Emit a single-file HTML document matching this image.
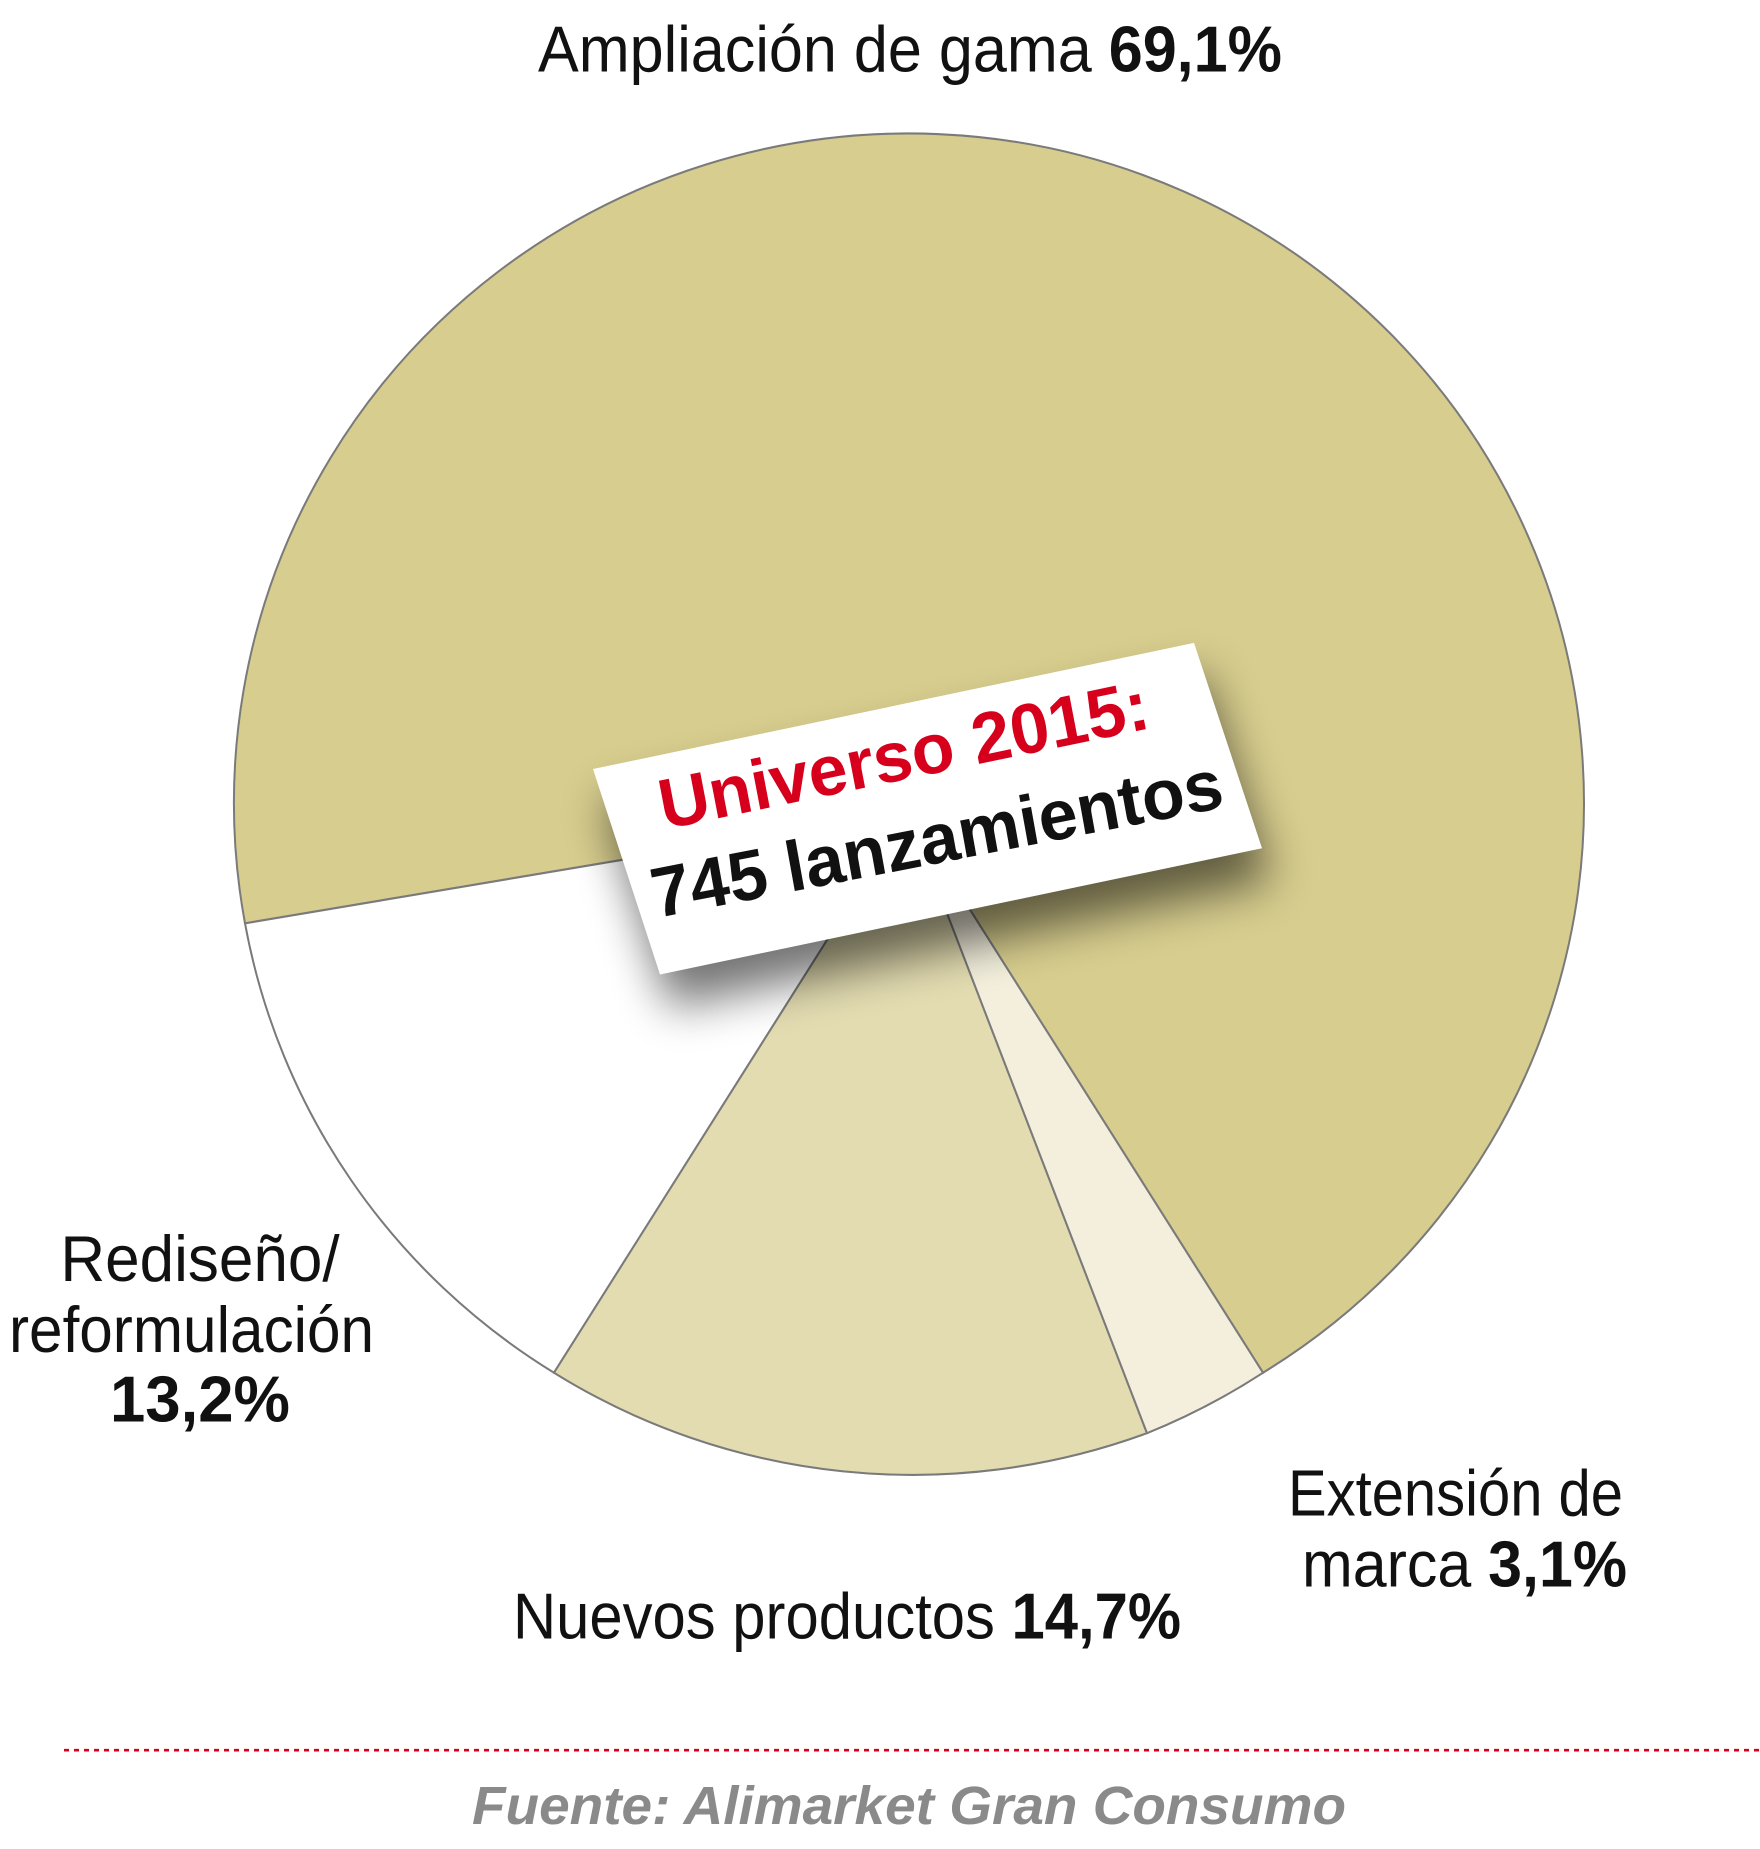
<!DOCTYPE html>
<html><head><meta charset="utf-8"><style>
html,body{margin:0;padding:0;background:#fff;}
svg{display:block;}
.l{font-family:"Liberation Sans Narrow","Liberation Sans",sans-serif;font-size:62px;fill:#111;}
.b{font-weight:bold;}
</style></head><body>
<svg width="1760" height="1849" viewBox="0 0 1760 1849" xmlns="http://www.w3.org/2000/svg">
<defs>
<filter id="sh" x="-30%" y="-50%" width="160%" height="200%"><feGaussianBlur stdDeviation="22"/></filter>
</defs>
<g transform="translate(0 9) scale(1 1.0426)">
<g stroke="#7a7a7a" stroke-width="2">
<path d="M908,770 L245,877 A675,642 0 1 1 1263,1308 Z" fill="#d7cd8e"/>
<path d="M908,770 L245,877 A675,642 0 0 0 554,1308 Z" fill="#ffffff"/>
<path d="M908,770 L554,1308 A675,642 0 0 0 1147,1366 Z" fill="#e3dcb1"/>
<path d="M908,770 L1147,1366 A675,642 0 0 0 1263,1308 Z" fill="#f3efdc"/>
</g>
<polygon points="603,760 1204,639 1272,836 670,957" fill="#000" opacity="0.55" filter="url(#sh)"/>
<polygon points="593,729 1194,608 1262,805 660,926" fill="#fff"/>
<g transform="rotate(-11.3 664 787)">
<text x="664" y="787" font-family="Liberation Sans,sans-serif" font-weight="bold" font-size="68" fill="#d6001c" textLength="498" lengthAdjust="spacingAndGlyphs">Universo 2015:</text>
</g>
<g transform="rotate(-10.6 656 872)">
<text x="656" y="872" font-family="Liberation Sans,sans-serif" font-weight="bold" font-size="68" fill="#111" textLength="580" lengthAdjust="spacingAndGlyphs">745 lanzamientos</text>
</g>
<text class="l" x="538" y="60" textLength="744" lengthAdjust="spacingAndGlyphs">Ampliación de gama <tspan class="b">69,1%</tspan></text>
<text class="l" x="200" y="1220" text-anchor="middle">Rediseño/</text>
<text class="l" x="9" y="1288" textLength="365" lengthAdjust="spacingAndGlyphs">reformulación</text>
<text class="l b" x="110" y="1355" textLength="180" lengthAdjust="spacingAndGlyphs">13,2%</text>
<text class="l" x="513" y="1563" textLength="668" lengthAdjust="spacingAndGlyphs">Nuevos productos <tspan class="b">14,7%</tspan></text>
<text class="l" x="1288" y="1445" textLength="335" lengthAdjust="spacingAndGlyphs">Extensión de</text>
<text class="l" x="1302" y="1513" textLength="325" lengthAdjust="spacingAndGlyphs">marca <tspan class="b">3,1%</tspan></text>
<line x1="64" y1="1670" x2="1760" y2="1670" stroke="#d6001c" stroke-width="2.5" stroke-dasharray="5,5"/>
<text x="472" y="1741" font-family="Liberation Sans,sans-serif" font-weight="bold" font-style="italic" font-size="52" fill="#8a8a8a" textLength="874" lengthAdjust="spacingAndGlyphs">Fuente: Alimarket Gran Consumo</text>
</g>
</svg>
</body></html>
